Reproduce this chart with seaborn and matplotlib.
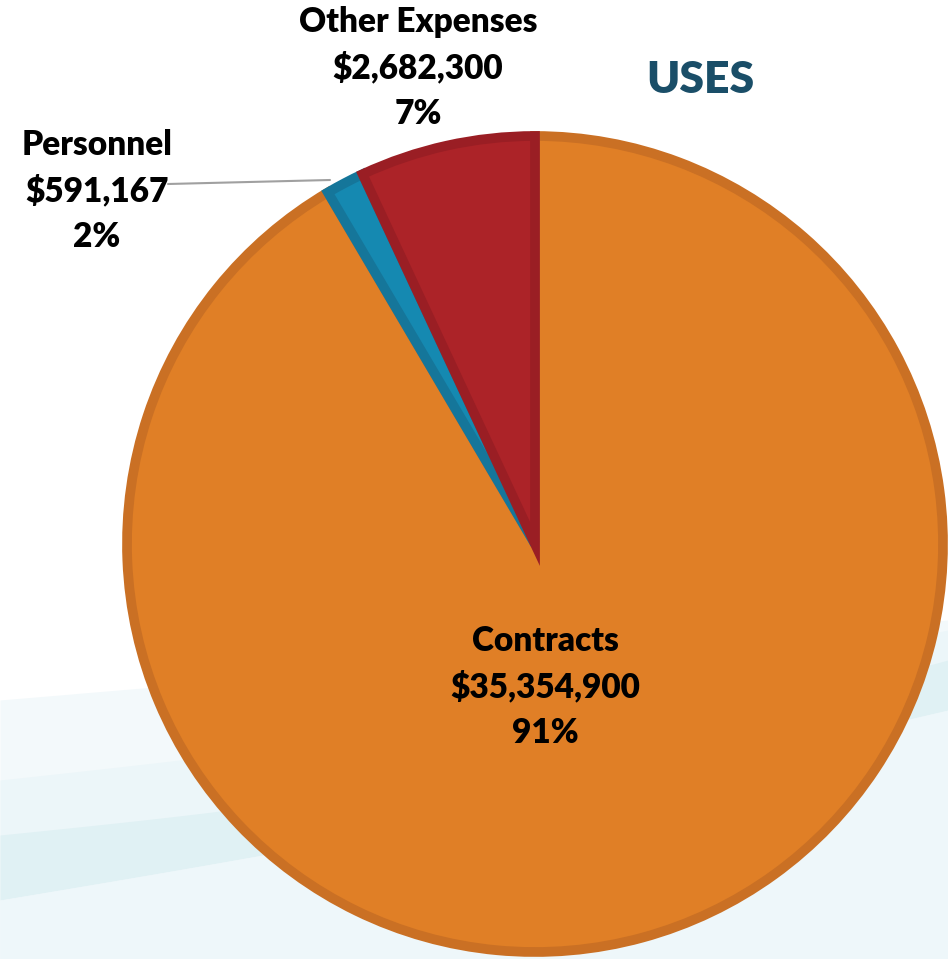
import numpy as np
import matplotlib
matplotlib.use("Agg")
import matplotlib.pyplot as plt
import seaborn as sns

categories = ["Contracts", "Personnel", "Other Expenses"]
amounts = [35354900, 591167, 2682300]
pct_labels = ["91%", "2%", "7%"]
amount_labels = ["$35,354,900", "$591,167", "$2,682,300"]
fill_colors = ["#E07F26", "#1589B1", "#AC2328"]
edge_colors = ["#CA7024", "#15769A", "#9A1E24"]

sns.set_theme(style="white")
plt.rcParams["font.family"] = ["Lato", "DejaVu Sans"]

W, H = 948, 959
fig = plt.figure(figsize=(W / 100, H / 100), dpi=100)
fig.patch.set_facecolor("white")

# background swoosh
bg = fig.add_axes([0, 0, 1, 1])
bg.set_xlim(0, W)
bg.set_ylim(H, 0)
bg.axis("off")
xs = np.linspace(0, W, 200)
t = xs / W
bg.fill_between(xs, 700 - 80 * t, H, color="#F3F9FB", lw=0)
bg.fill_between(xs, 780 - 150 * t + 15 * np.sin(np.pi * t), H, color="#ECF6F9", lw=0)
bg.fill_between(xs, 835 - 175 * t + 25 * np.sin(np.pi * t), 900 - 190 * t + 10 * np.sin(np.pi * t),
                color="#E0F1F4", lw=0)
bg.fill_between(xs, 900 - 190 * t + 10 * np.sin(np.pi * t), H, color="#EEF7FA", lw=0)

# pie axes: center (535,544), radius 408 px
cx, cy, r = 535, 544, 408
ax = fig.add_axes([(cx - r) / W, (H - cy - r) / H, 2 * r / W, 2 * r / H])
wedges, _ = ax.pie(amounts, colors=fill_colors, startangle=90, counterclock=False,
                   radius=1, wedgeprops=dict(linewidth=7, joinstyle="miter"))
for w, ec in zip(wedges, edge_colors):
    w.set_edgecolor(ec)
ax.set_xlim(-1, 1)
ax.set_ylim(-1, 1)
ax.set_aspect("equal")
ax.axis("off")

def label(x, y, lines, size=24):
    for i, tx in enumerate(lines):
        fig.text(x / W, 1 - (y + i * 46) / H, tx, ha="center", va="center",
                 fontsize=size, fontweight="heavy", color="black")

label(545, 641, [categories[0], amount_labels[0], pct_labels[0]])
label(97, 145, [categories[1], amount_labels[1], pct_labels[1]])
label(418, 22, [categories[2], amount_labels[2], pct_labels[2]])

fig.text(700 / W, 1 - 80 / H, "USES", ha="center", va="center", fontsize=32,
         fontweight="heavy", color="#1A4E68")

# leader line for Personnel
bg.plot([168, 330], [184, 180], color="#A0A0A0", lw=1.5)

fig.savefig("out.png", dpi=100)
